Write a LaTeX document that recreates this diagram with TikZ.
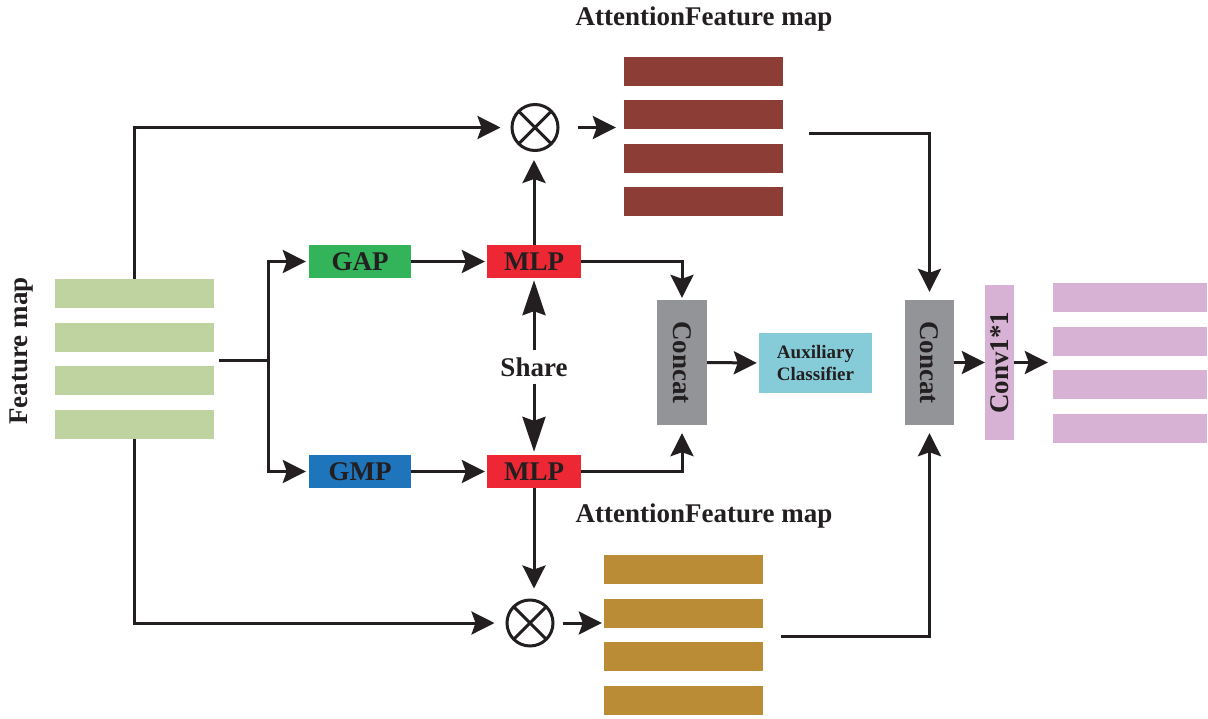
\documentclass[tikz,border=0pt]{standalone}
\usepackage{fontspec}
\setmainfont{Liberation Serif}
\usetikzlibrary{arrows.meta,calc}

\definecolor{ink}{RGB}{35,31,32}
\definecolor{fmgreen}{RGB}{190,211,160}
\definecolor{gapgreen}{RGB}{52,180,90}
\definecolor{gmpblue}{RGB}{30,117,188}
\definecolor{mlpred}{RGB}{237,40,52}
\definecolor{concatgray}{RGB}{146,148,151}
\definecolor{auxcyan}{RGB}{134,204,216}
\definecolor{convpink}{RGB}{216,178,212}
\definecolor{attbrown}{RGB}{139,61,54}
\definecolor{attgold}{RGB}{185,140,53}

\tikzset{
  bigfont/.style={font=\bfseries\fontsize{27}{30}\selectfont, text=ink},
  smallfont/.style={font=\bfseries\fontsize{19}{22}\selectfont, text=ink},
  bar/.style={fill=#1, draw=none, minimum width=159pt, minimum height=29pt, inner sep=0pt},
  opbox/.style={fill=#1, draw=none, minimum width=102pt, minimum height=33pt, inner sep=0pt, bigfont},
  tallbox/.style={fill=#1, draw=none, inner sep=0pt},
  otimes/.style={circle, draw=ink, line width=3pt, minimum size=46pt, inner sep=0pt,
    path picture={\draw[ink, line width=3pt]
      (path picture bounding box.south west) -- (path picture bounding box.north east)
      (path picture bounding box.north west) -- (path picture bounding box.south east);}},
  conn/.style={draw=ink, line width=3pt},
  arr/.style={conn, -{Stealth[length=23pt,width=23pt,inset=4pt]}},
  longarr/.style={conn, -{Stealth[length=35pt,width=23pt,inset=4pt]}},
}

\begin{document}
\begin{tikzpicture}[x=1pt, y=-1pt]
\useasboundingbox (0,0) rectangle (1208,718);

% input feature map
\node[bar=fmgreen] (fm1) at (134.5,293.5) {};
\node[bar=fmgreen] (fm2) at (134.5,337.5) {};
\node[bar=fmgreen] (fm3) at (134.5,380.5) {};
\node[bar=fmgreen] (fm4) at (134.5,424.5) {};
\node[bigfont, rotate=90] (fmlabel) at (22,351) {Feature map};

% pooling and shared MLP
\node[opbox=gapgreen] (gap) at (360,261.5) {GAP};
\node[opbox=gmpblue] (gmp) at (360,471.5) {GMP};
\node[opbox=mlpred, minimum width=94pt] (mlp1) at (534,261.5) {MLP};
\node[opbox=mlpred, minimum width=94pt] (mlp2) at (534,471.5) {MLP};
\node[bigfont, inner sep=7pt] (share) at (534,367) {Share};

% multiplication nodes
\node[otimes] (ot1) at (535,127.5) {};
\node[otimes] (ot2) at (530,623) {};

% attention feature maps
\node[bigfont] (att1label) at (704,19) {AttentionFeature map};
\node[bar=attbrown] (ab1) at (703.5,71.5) {};
\node[bar=attbrown] (ab2) at (703.5,114.5) {};
\node[bar=attbrown] (ab3) at (703.5,158.5) {};
\node[bar=attbrown] (ab4) at (703.5,201.5) {};

\node[bigfont] (att2label) at (704,516) {AttentionFeature map};
\node[bar=attgold] (ag1) at (683.5,569.5) {};
\node[bar=attgold] (ag2) at (683.5,613.5) {};
\node[bar=attgold] (ag3) at (683.5,656.5) {};
\node[bar=attgold] (ag4) at (683.5,700.5) {};

% concatenations, classifier, 1x1 conv
\node[tallbox=concatgray, minimum width=50pt, minimum height=125pt] (cat1) at (682,362.5) {};
\node[bigfont, rotate=-90] (cat1text) at (cat1) {Concat};
\node[tallbox=auxcyan, minimum width=113pt, minimum height=60pt, smallfont, align=center] (aux) at (815.5,363) {Auxiliary\\Classifier};

\node[tallbox=concatgray, minimum width=49pt, minimum height=125pt] (cat2) at (929.5,362.5) {};
\node[bigfont, rotate=-90] (cat2text) at (cat2) {Concat};
\node[tallbox=convpink, minimum width=29pt, minimum height=155pt] (conv) at (999.5,362.5) {};
\node[bigfont, rotate=90] (convtext) at (conv) {Conv1*1};

% output feature map
\node[bar=convpink, minimum width=154pt] (out1) at (1130,297.5) {};
\node[bar=convpink, minimum width=154pt] (out2) at (1130,341.5) {};
\node[bar=convpink, minimum width=154pt] (out3) at (1130,384) {};
\node[bar=convpink, minimum width=154pt] (out4) at (1130,428.5) {};

% free ends of connectors
\coordinate (fmout) at (219,360);
\coordinate (split) at (268,360);
\coordinate (about) at (809,133);
\coordinate (agout) at (781,636);

% connectors
\draw[conn] (fmout) -- (split);
\draw[arr, shorten >=3pt] (split) |- (gap.west);
\draw[arr, shorten >=3pt] (split) |- (gmp.west);
\draw[arr, shorten >=2pt] (gap.east) -- (mlp1.west);
\draw[arr, shorten >=2pt] (gmp.east) -- (mlp2.west);
\draw[longarr, shorten >=2pt] (share.north) -- (mlp1.south);
\draw[longarr, shorten >=3pt] (share.south) -- (mlp2.north);

\draw[arr, shorten >=10pt] (fm1.north) |- (ot1.west);
\draw[arr, shorten >=8pt] (mlp1.north) -- (mlp1.north |- ot1.south);
\draw[arr, shorten <=18pt, shorten >=8pt] (ot1.east) -- (ot1.east -| ab1.west);

\draw[arr, shorten >=11pt] (fm4.south) |- (ot2.west);
\draw[arr, shorten >=10pt] (mlp2.south) -- (mlp2.south |- ot2.north);
\draw[arr, shorten <=8pt, shorten >=2pt] (ot2.east) -- (ot2.east -| ag1.west);

\draw[arr, shorten >=2pt] (mlp1.east) -| (cat1.north);
\draw[arr, shorten >=8pt] (mlp2.east) -| (cat1.south);
\draw[arr, shorten >=2pt] (cat1.east) -- (aux.west);

\draw[arr, shorten >=8pt] (about) -| (cat2.north);
\draw[arr, shorten >=8pt] (agout) -| (cat2.south);
\draw[arr] (cat2.east) -- (conv.west);
\draw[arr, shorten >=5pt] (conv.east) -- (conv.east -| out1.west);
\end{tikzpicture}
\end{document}
